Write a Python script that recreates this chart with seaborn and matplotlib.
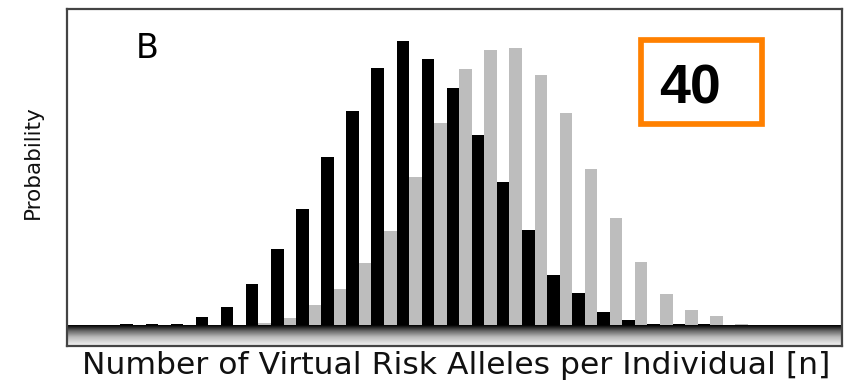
import numpy as np
import pandas as pd
import matplotlib
matplotlib.use("Agg")
import matplotlib.pyplot as plt
from matplotlib.patches import Rectangle
from matplotlib.colors import LinearSegmentedColormap
import seaborn as sns

# Number of virtual risk alleles carried per individual
n_alleles = list(range(26))

# Probability of each allele count in the two simulated groups
controls = [0.0008, 0.0008, 0.0011, 0.0041, 0.0083, 0.0187, 0.0344, 0.0521,
            0.0754, 0.0959, 0.1151, 0.1269, 0.1191, 0.1059, 0.0851, 0.0643,
            0.0428, 0.0227, 0.0146, 0.0064, 0.0028, 0.0010, 0.0007, 0.0007,
            0.0004, 0.0002]
cases = [0.0, 0.0, 0.0, 0.0, 0.0, 0.0015, 0.0037, 0.0094,
         0.0164, 0.0279, 0.0423, 0.0665, 0.0903, 0.1144, 0.1230, 0.1238,
         0.1117, 0.0951, 0.0700, 0.0483, 0.0287, 0.0143, 0.0069, 0.0045,
         0.0007, 0.0004]

panel_letter = "B"
x_label = "Number of Virtual Risk Alleles per Individual [n]"
y_label = "Probability"
badge_text = "40"

df = pd.DataFrame({
    "n": n_alleles * 2,
    "group": ["controls"] * len(n_alleles) + ["cases"] * len(n_alleles),
    "prob": controls + cases,
})

sns.set_style("white")
plt.rcParams["font.family"] = ["DejaVu Sans"]

W, H = 845, 381
fig = plt.figure(figsize=(W / 100, H / 100), dpi=100)
fig.patch.set_facecolor("white")

# axes frame in pixel terms: left 67, right 842, top 8.5, bottom 345.5
ax = fig.add_axes([67 / W, (H - 345.5) / H, (842 - 67) / W, (345.5 - 8.5) / H])

sns.barplot(data=df, x="n", y="prob", hue="group",
            hue_order=["controls", "cases"],
            palette={"controls": "#000000", "cases": "#bdbdbd"},
            width=1.0, linewidth=0, errorbar=None, legend=False,
            saturation=1, ax=ax)

xmin, xmax = -2.63, 28.25
ymin, ymax = -0.0087, 0.1415
ax.set_xlim(xmin, xmax)
ax.set_ylim(ymin, ymax)

# shaded floor under the zero line, dark at the top fading to light grey
floor_cmap = LinearSegmentedColormap.from_list(
    "floor", [(0.0, "#000000"), (0.08, "#1c1c1c"), (0.3, "#6a6a6a"),
              (0.6, "#bababa"), (1.0, "#f0f0f0")])
grad = np.linspace(0, 1, 64).reshape(-1, 1)
ax.imshow(grad, cmap=floor_cmap, aspect="auto", extent=(xmin, xmax, ymin, 0),
          origin="upper", interpolation="bilinear", zorder=3)

ax.set_xticks([])
ax.set_yticks([])
ax.set_xlabel("")
ax.set_ylabel("")
for s in ax.spines.values():
    s.set_visible(True)
    s.set_color("#444444")
    s.set_linewidth(1.6)
    s.set_zorder(5)

ax.text((136 - 67) / 775, (345.5 - 58) / 337, panel_letter, transform=ax.transAxes,
        fontsize=24, color="black", ha="left", va="baseline")

fig.text(33 / W, 1 - 162 / H, y_label, rotation=90, ha="center", va="center",
         fontsize=15.5, color="#111111")
fig.text(456 / W, 1 - 374 / H, x_label, ha="center", va="baseline",
         fontsize=22.6, color="#111111")

# orange badge in the upper right
fig.patches.append(Rectangle((641 / W, 1 - 124 / H), (762 - 641) / W, (124 - 40) / H,
                             transform=fig.transFigure, fill=False,
                             edgecolor="#ff8000", linewidth=4.1, zorder=10))
fig.text(659 / W, 1 - 103 / H, badge_text, ha="left", va="baseline",
         fontsize=40, fontweight="bold", family=["Liberation Sans", "DejaVu Sans"],
         color="black", zorder=11)

fig.savefig("out.png", dpi=100)
